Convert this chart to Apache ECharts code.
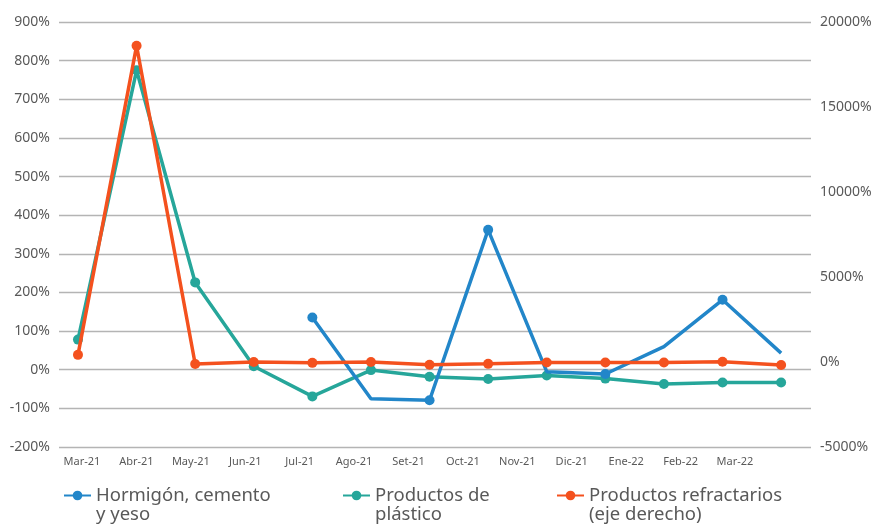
<!DOCTYPE html>
<html>
<head>
<meta charset="utf-8">
<script src="https://cdn.jsdelivr.net/npm/echarts@6/dist/echarts.min.js"></script>
<style>
html,body{margin:0;padding:0;background:#fff;}
#chart{width:876px;height:525px;}
</style>
</head>
<body>
<div id="chart"></div>
<script>
// ---- data ----
const categories = ['Mar-21','Abr-21','May-21','Jun-21','Jul-21','Ago-21','Set-21','Oct-21','Nov-21','Dic-21','Ene-22','Feb-22','Mar-22'];
const hormigon = [null, null, null, null, 135, -75, -79, 362, -5, -11, 60, 181, 43];
const hormigonMarkers = [4, 6, 7, 9, 11];
const plastico = [78, 775, 226, 9, -69, -1, -18, -24, -15, -23, -37, -33, -33];
const refractarios = [420, 18600, -120, 0, -50, 0, -160, -110, -30, -30, -30, 10, -180];
const seriesNames = ['Hormigón, cemento y yeso', 'Productos de plástico', 'Productos refractarios (eje derecho)'];
const legendLabels = ['Hormigón, cemento\ny yeso', 'Productos de\nplástico', 'Productos refractarios\n(eje derecho)'];
const leftAxis = {min: -200, max: 900, interval: 100};
const rightAxis = {min: -5000, max: 20000, interval: 5000};

const colors = ['#2286c9', '#26a69a', '#f4511e'];
const FONT = 'Noto Sans';
const textGray = '#595959';

const chart = echarts.init(document.getElementById('chart'), null, {renderer: 'canvas'});

function pts(arr, markers) {
  const out = [];
  arr.forEach((v, i) => {
    if (v === null) return;
    const item = {value: [i, v]};
    if (markers) item.symbol = markers.includes(i) ? 'circle' : 'none';
    out.push(item);
  });
  return out;
}

const gridTop = 22, gridBottom = 78;

const option = {
  animation: false,
  color: colors,
  textStyle: {fontFamily: FONT},
  grid: [
    {left: 59, right: 65, top: gridTop, bottom: gridBottom},
    {left: 82, right: 141, top: gridTop, bottom: gridBottom}
  ],
  xAxis: [
    {
      type: 'value', gridIndex: 0,
      min: -0.324, max: 12.51,
      axisLine: {show: false}, axisTick: {show: false}, axisLabel: {show: false}, splitLine: {show: false}
    },
    {
      type: 'category', gridIndex: 1, data: categories, boundaryGap: false,
      axisLine: {show: false}, axisTick: {show: false}, splitLine: {show: false},
      axisLabel: {color: textGray, fontSize: 11, fontFamily: FONT, margin: 9, interval: 0}
    }
  ],
  yAxis: [
    {
      type: 'value', gridIndex: 0, position: 'left',
      min: leftAxis.min, max: leftAxis.max, interval: leftAxis.interval,
      axisLine: {show: false}, axisTick: {show: false},
      axisLabel: {color: textGray, fontSize: 14, fontFamily: FONT, margin: 9, formatter: v => v + '%'},
      splitLine: {show: true, lineStyle: {color: '#b4b4b4', width: 1.3}}
    },
    {
      type: 'value', gridIndex: 0, position: 'right',
      min: rightAxis.min, max: rightAxis.max, interval: rightAxis.interval,
      axisLine: {show: false}, axisTick: {show: false},
      axisLabel: {color: textGray, fontSize: 14, fontFamily: FONT, margin: 9, formatter: v => v + '%'},
      splitLine: {show: false}
    },
    {
      type: 'value', gridIndex: 1, show: false, min: 0, max: 1
    }
  ],
  legend: seriesNames.map((n, i) => ({
    data: [n],
    left: [58, 337, 551][i],
    top: 462,
    orient: 'horizontal',
    itemWidth: 27,
    itemHeight: 12,
    formatter: () => '\n' + legendLabels[i],
    textStyle: {color: textGray, fontSize: 18.5, fontFamily: FONT, lineHeight: 19}
  })),
  series: [
    {
      name: seriesNames[0], type: 'line', xAxisIndex: 0, yAxisIndex: 0,
      data: pts(hormigon, hormigonMarkers),
      symbol: 'circle', symbolSize: 10, showAllSymbol: true,
      lineStyle: {width: 3.5, color: colors[0]}, itemStyle: {color: colors[0]}, z: 3
    },
    {
      name: seriesNames[1], type: 'line', xAxisIndex: 0, yAxisIndex: 0,
      data: pts(plastico),
      symbol: 'circle', symbolSize: 10, showAllSymbol: true,
      lineStyle: {width: 3.5, color: colors[1]}, itemStyle: {color: colors[1]}, z: 2
    },
    {
      name: seriesNames[2], type: 'line', xAxisIndex: 0, yAxisIndex: 1,
      data: pts(refractarios),
      symbol: 'circle', symbolSize: 10, showAllSymbol: true,
      lineStyle: {width: 3.5, color: colors[2]}, itemStyle: {color: colors[2]}, z: 4
    }
  ]
};
chart.setOption(option);
</script>
</body>
</html>
